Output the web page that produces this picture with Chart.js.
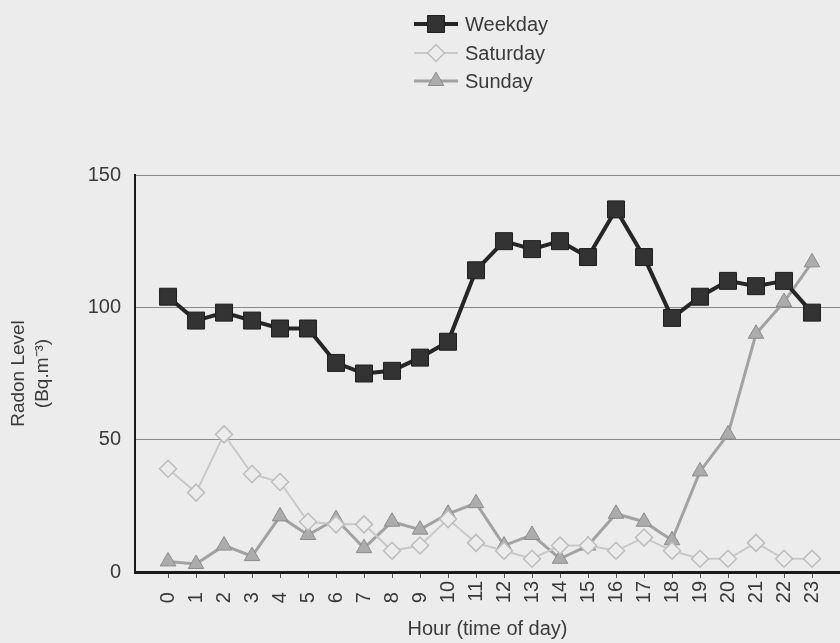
<!DOCTYPE html>
<html>
<head>
<meta charset="utf-8">
<script src="https://cdn.jsdelivr.net/npm/chart.js@4/dist/chart.umd.min.js"></script>
<style>
  html, body { margin: 0; padding: 0; background: #ececec; }
  #wrap { width: 840px; height: 643px; }
</style>
</head>
<body>
<div id="wrap"><canvas id="chart" width="840" height="643"></canvas></div>
<script>
const hours = [0, 1, 2, 3, 4, 5, 6, 7, 8, 9, 10, 11, 12, 13, 14, 15, 16, 17, 18, 19, 20, 21, 22, 23]
const weekday = [104, 95, 98, 95, 92, 92, 79, 75, 76, 81, 87, 114, 125, 122, 125, 119, 137, 119, 96, 104, 110, 108, 110, 98]
const saturday = [39, 30, 52, 37, 34, 19, 18, 18, 8, 10, 20, 11, 8, 5, 10, 10, 8, 13, 8, 5, 5, 11, 5, 5]
const sunday = [4, 3, 10, 6, 21, 14, 20, 9, 19, 16, 22, 26, 10, 14, 5, 10, 22, 19, 12, 38, 52, 90, 102, 117]
const yTicks = [0, 50, 100, 150]

const FONT = "'Liberation Sans', Arial, sans-serif"
const TEXT = '#3a3a3a'

const pts = arr => arr.map((v, i) => ({ x: hours[i], y: v }))

// legend stacked vertically above the plot, like the original
const stackedLegend = {
    id: 'stackedLegend',
    afterDraw(chart) {
        const ctx = chart.ctx
        const rows = [24, 53, 81]
        chart.data.datasets.forEach((ds, i) => {
            const y = rows[i]
            ctx.save()
            ctx.strokeStyle = ds.borderColor
            ctx.lineWidth = ds.borderWidth
            ctx.beginPath()
            ctx.moveTo(414, y)
            ctx.lineTo(458, y)
            ctx.stroke()
            ctx.fillStyle = ds.pointBackgroundColor
            ctx.strokeStyle = ds.pointBorderColor
            ctx.lineWidth = ds.pointBorderWidth
            Chart.helpers.drawPoint(ctx, {
                pointStyle: ds.pointStyle,
                radius: ds.pointRadius,
                rotation: 0,
                borderWidth: ds.pointBorderWidth
            }, 436, y)
            ctx.fillStyle = TEXT
            ctx.font = '20px ' + FONT
            ctx.textBaseline = 'middle'
            ctx.textAlign = 'left'
            ctx.fillText(ds.label, 465, y + 1)
            ctx.restore()
        })
    }
}

new Chart(document.getElementById('chart'), {
    type: 'line',
    data: {
        datasets: [{
            label: 'Weekday',
            data: pts(weekday),
            borderColor: '#262626',
            borderWidth: 4,
            pointStyle: 'rect',
            pointRadius: 12,
            pointBackgroundColor: '#333333',
            pointBorderColor: '#1e1e1e',
            pointBorderWidth: 1,
            tension: 0
        }, {
            label: 'Saturday',
            data: pts(saturday),
            borderColor: '#c9c9c9',
            borderWidth: 2,
            pointStyle: 'rectRot',
            pointRadius: 8.5,
            pointBackgroundColor: '#ececec',
            pointBorderColor: '#bdbdbd',
            pointBorderWidth: 1.5,
            tension: 0
        }, {
            label: 'Sunday',
            data: pts(sunday),
            borderColor: '#a2a2a2',
            borderWidth: 3,
            pointStyle: 'triangle',
            pointRadius: 9,
            pointBackgroundColor: '#acacac',
            pointBorderColor: '#8c8c8c',
            pointBorderWidth: 1,
            tension: 0
        }]
    },
    options: {
        responsive: false,
        animation: false,
        layout: {
            autoPadding: false,
            padding: { top: 175, right: 0, left: 0, bottom: 0 }
        },
        plugins: {
            legend: { display: false },
            tooltip: { enabled: false }
        },
        scales: {
            x: {
                type: 'linear',
                min: -1.18,
                max: 24,
                afterBuildTicks: scale => {
                    scale.ticks = hours.map(h => ({ value: h }))
                },
                afterFit: scale => {
                    scale.height = 71
                    scale.paddingLeft = 0
                    scale.paddingRight = 0
                },
                ticks: {
                    autoSkip: false,
                    minRotation: 90,
                    maxRotation: 90,
                    padding: 3,
                    color: TEXT,
                    font: { family: FONT, size: 20 },
                    // pad one-digit hours so every label starts on the same line
                    callback: v => (v < 10 ? v + '  ' : String(v))
                },
                grid: {
                    drawOnChartArea: false,
                    drawTicks: true,
                    tickLength: 6,
                    color: '#555555'
                },
                border: { color: '#1a1a1a', width: 3 },
                title: {
                    display: true,
                    text: 'Hour (time of day)',
                    color: TEXT,
                    font: { family: FONT, size: 20 },
                    padding: { top: 0, bottom: 2 }
                }
            },
            y: {
                min: 0,
                max: 150,
                afterBuildTicks: scale => {
                    scale.ticks = yTicks.map(v => ({ value: v }))
                },
                afterFit: scale => { scale.width = 135 },
                ticks: {
                    padding: 14,
                    color: TEXT,
                    font: { family: FONT, size: 20 }
                },
                grid: {
                    color: '#8a8a8a',
                    lineWidth: 1,
                    drawTicks: false
                },
                border: { color: '#1a1a1a', width: 2 },
                title: {
                    display: true,
                    text: ['Radon Level', '(Bq.m\u207B\u00B3)'],
                    color: TEXT,
                    font: { family: FONT, size: 19, lineHeight: 1.3 },
                    padding: { top: 6, bottom: 0 }
                }
            }
        }
    },
    plugins: [stackedLegend]
})
</script>
</body>
</html>
